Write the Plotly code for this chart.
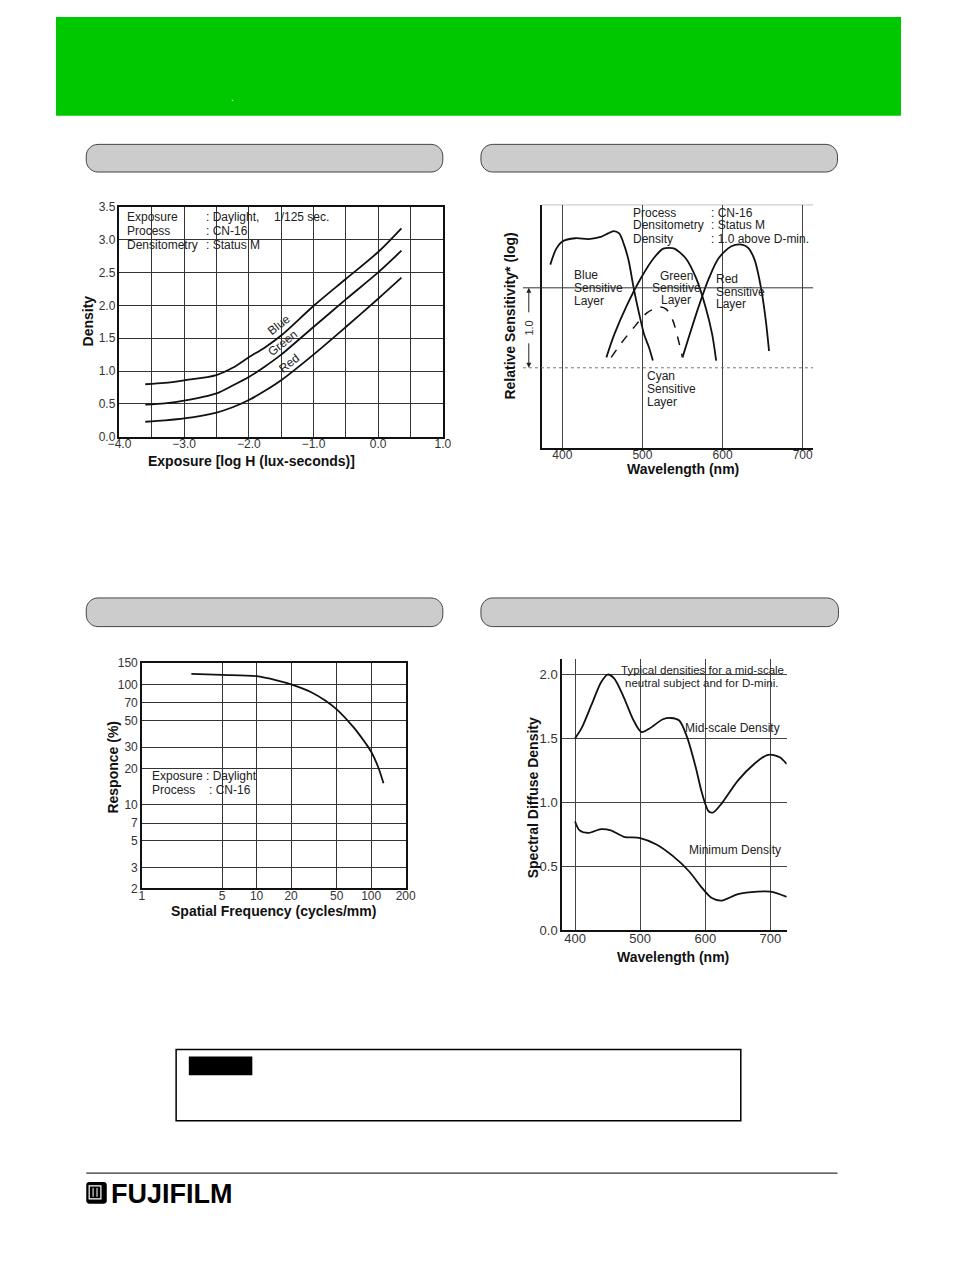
import math
import plotly.graph_objects as go

W, H = 954, 1274
FONT = "Liberation Sans, Arial, Helvetica, sans-serif"

# ---------------- data ----------------
# Chart 1: characteristic curves
exp_logH = [-3.6, -3.3, -3.0, -2.5, -2.25, -2.0, -1.75, -1.5, -1.0, -0.5, 0.0, 0.36]
blue_density = [0.80, 0.82, 0.86, 0.94, 1.05, 1.21, 1.36, 1.54, 1.99, 2.40, 2.81, 3.17]
green_density = [0.49, 0.51, 0.55, 0.66, 0.78, 0.91, 1.07, 1.25, 1.67, 2.09, 2.50, 2.83]
red_density = [0.23, 0.25, 0.28, 0.37, 0.45, 0.56, 0.70, 0.86, 1.25, 1.67, 2.10, 2.42]
c1_xticks = [-4.0, -3.5, -3.0, -2.5, -2.0, -1.5, -1.0, -0.5, 0.0, 0.5, 1.0]
c1_xtext = ["\u22124.0", "", "\u22123.0", "", "\u22122.0", "", "\u22121.0", "", "0.0", "", "1.0"]
c1_yticks = [0.0, 0.5, 1.0, 1.5, 2.0, 2.5, 3.0, 3.5]
c1_ytext = ["0.0", "0.5", "1.0", "1.5", "2.0", "2.5", "3.0", "3.5"]

# Chart 2: spectral sensitivity (log relative)
blue_wl = [385, 392, 400, 416, 433, 449, 457, 464, 471, 477, 483, 489, 496, 502, 508, 513]
blue_sens = [2.29, 2.48, 2.58, 2.62, 2.61, 2.64, 2.68, 2.71, 2.68, 2.54, 2.33, 2.00, 1.67, 1.42, 1.26, 1.09]
green_wl = [455, 465, 481, 498, 514, 526, 533, 540, 554, 567, 579, 587, 592]
green_sens = [1.13, 1.42, 1.79, 2.12, 2.37, 2.49, 2.50, 2.49, 2.37, 2.12, 1.75, 1.42, 1.09]
red_wl = [550, 559, 571, 583, 595, 611, 624, 632, 640, 648, 654, 658]
red_sens = [1.13, 1.42, 1.79, 2.12, 2.37, 2.52, 2.54, 2.50, 2.35, 2.00, 1.59, 1.21]
cyan_wl = [461, 473, 489, 506, 522, 530, 538, 544, 550]
cyan_sens = [1.13, 1.30, 1.50, 1.69, 1.76, 1.73, 1.59, 1.38, 1.13]
c2_xticks = [400, 500, 600, 700]

# Chart 3: MTF
mtf_freq = [2.7, 5, 10, 15, 20, 30, 40, 50, 70, 90, 100, 115, 128]
mtf_resp = [122, 120, 117, 108, 100, 86, 73, 62, 44, 32, 27.5, 20.5, 15]
c3_xticks = [1, 5, 10, 20, 50, 100, 200]
c3_yticks = [2, 3, 5, 7, 10, 20, 30, 50, 70, 100, 150]

# Chart 4: spectral dye density
mid_wl = [400, 410, 425, 440, 450, 460, 475, 490, 502, 515, 535, 547, 560, 572, 585, 595, 605, 612, 625, 650, 675, 695, 705, 715, 725]
mid_density = [1.50, 1.58, 1.76, 1.94, 2.00, 1.97, 1.82, 1.64, 1.55, 1.58, 1.65, 1.66, 1.64, 1.51, 1.28, 1.07, 0.93, 0.92, 0.99, 1.17, 1.30, 1.37, 1.37, 1.35, 1.30]
min_wl = [400, 407, 420, 440, 455, 475, 500, 525, 550, 575, 595, 610, 625, 650, 680, 700, 725]
min_density = [0.85, 0.78, 0.76, 0.79, 0.78, 0.73, 0.72, 0.67, 0.58, 0.46, 0.33, 0.25, 0.23, 0.28, 0.30, 0.30, 0.26]
c4_xticks = [400, 500, 600, 700]
c4_yticks = [0.0, 0.5, 1.0, 1.5, 2.0]
c4_ytext = ["0.0", "0.5", "1.0", "1.5", "2.0"]


# ---------------- helpers (page pixels -> paper fractions) ----------------
def X(p):
    return p / W


def Y(p):
    return 1 - p / H


def pt(x, y):
    return f"{X(x):.5f},{Y(y):.5f}"


def rrect(x0, y0, x1, y1, r):
    k = 0.5523 * r
    return (
        f"M{pt(x0 + r, y0)} L{pt(x1 - r, y0)} "
        f"C{pt(x1 - r + k, y0)} {pt(x1, y0 + r - k)} {pt(x1, y0 + r)} "
        f"L{pt(x1, y1 - r)} "
        f"C{pt(x1, y1 - r + k)} {pt(x1 - r + k, y1)} {pt(x1 - r, y1)} "
        f"L{pt(x0 + r, y1)} "
        f"C{pt(x0 + r - k, y1)} {pt(x0, y1 - r + k)} {pt(x0, y1 - r)} "
        f"L{pt(x0, y0 + r)} "
        f"C{pt(x0, y0 + r - k)} {pt(x0 + r - k, y0)} {pt(x0 + r, y0)} Z"
    )


shapes = []
annotations = []


def text(s, x, y, size=12, anchor="left", color="#222", bold=False, angle=0, fam=FONT):
    annotations.append(dict(
        text=f"<b>{s}</b>" if bold else s,
        x=X(x), y=Y(y), xref="paper", yref="paper",
        xanchor=anchor, yanchor="middle", showarrow=False,
        textangle=angle,
        font=dict(family=fam, size=size, color=color),
    ))


fig = go.Figure()
curve = dict(color="#111", width=1.8, shape="spline", smoothing=0.8)

# chart 1
for yv in (blue_density, green_density, red_density):
    fig.add_trace(go.Scatter(x=exp_logH, y=yv, mode="lines", line=curve,
                             xaxis="x", yaxis="y", hoverinfo="skip"))
# chart 2
for xv, yv in ((blue_wl, blue_sens), (green_wl, green_sens), (red_wl, red_sens)):
    fig.add_trace(go.Scatter(x=xv, y=yv, mode="lines", line=curve,
                             xaxis="x2", yaxis="y2", hoverinfo="skip"))
fig.add_trace(go.Scatter(x=cyan_wl, y=cyan_sens, mode="lines",
                         line=dict(color="#111", width=1.5, shape="spline", smoothing=0.8, dash="dash"),
                         xaxis="x2", yaxis="y2", hoverinfo="skip"))
# chart 3
fig.add_trace(go.Scatter(x=mtf_freq, y=mtf_resp, mode="lines", line=curve,
                         xaxis="x3", yaxis="y3", hoverinfo="skip"))
# chart 4
for xv, yv in ((mid_wl, mid_density), (min_wl, min_density)):
    fig.add_trace(go.Scatter(x=xv, y=yv, mode="lines", line=curve,
                             xaxis="x4", yaxis="y4", hoverinfo="skip"))

tickfont = dict(family=FONT, size=12, color="#333")
base = dict(showgrid=True, gridcolor="#333", gridwidth=1, zeroline=False,
            showline=True, linecolor="#111", linewidth=1.5, ticks="",
            tickfont=tickfont, fixedrange=True)

layout_axes = dict(
    xaxis=dict(base, ticklabelstandoff=-5, domain=[X(110), X(441)], range=[-4, 1], anchor="y",
               tickmode="array", tickvals=c1_xticks, ticktext=c1_xtext, mirror=True),
    yaxis=dict(base, domain=[Y(435), Y(202)], range=[0, 3.5], anchor="x",
               tickmode="array", tickvals=c1_yticks, ticktext=c1_ytext, mirror=True),
    xaxis2=dict(base, ticklabelstandoff=-5, domain=[X(542), X(820)], range=[374, 713], anchor="y2",
                tickmode="array", tickvals=c2_xticks, gridcolor="#444"),
    yaxis2=dict(base, domain=[Y(446), Y(200)], range=[0, 3.04], anchor="x2",
                showgrid=False, showticklabels=False),
    xaxis3=dict(base, ticklabelstandoff=-5, type="log", domain=[X(133), X(403)],
                range=[0, math.log10(200)],
                anchor="y3", tickmode="array", tickvals=c3_xticks,
                ticktext=[str(v) for v in c3_xticks], mirror=True),
    yaxis3=dict(base, type="log", domain=[Y(892), Y(664)],
                range=[math.log10(2), math.log10(150)], anchor="x3",
                tickmode="array", tickvals=c3_yticks,
                ticktext=[str(v) for v in c3_yticks], mirror=True),
    xaxis4=dict(base, ticklabelstandoff=-4, domain=[X(563), X(793)], range=[380, 725], anchor="y4",
                tickmode="array", tickvals=c4_xticks, gridcolor="#444",
                tickfont=dict(family=FONT, size=13, color="#333")),
    yaxis4=dict(base, domain=[Y(934), Y(660)], range=[0, 2.12], anchor="x4",
                tickmode="array", tickvals=c4_yticks, ticktext=c4_ytext, gridcolor="#444",
                tickfont=dict(family=FONT, size=13, color="#333")),
)

# ---------------- page decorations ----------------
shapes.append(dict(type="rect", xref="paper", yref="paper", x0=X(45), x1=X(910),
                   y0=Y(110), y1=Y(10), fillcolor="rgb(0,200,0)", line=dict(width=0),
                   layer="below"))
for (x0, y0, x1, y1) in ((76, 139, 441, 167), (480, 139, 845, 167),
                         (76, 598, 441, 627), (480, 598, 846, 627)):
    shapes.append(dict(type="path", xref="paper", yref="paper", path=rrect(x0, y0, x1, y1, 12),
                       fillcolor="#CCCCCC", line=dict(color="#444", width=1), layer="below"))
# note box
shapes.append(dict(type="rect", xref="paper", yref="paper", x0=X(168), x1=X(746),
                   y0=Y(1127), y1=Y(1055), line=dict(color="#000", width=1.5)))
shapes.append(dict(type="rect", xref="paper", yref="paper", x0=X(181), x1=X(246),
                   y0=Y(1081), y1=Y(1062), fillcolor="#000", line=dict(width=0)))
# footer line
shapes.append(dict(type="line", xref="paper", yref="paper", x0=X(76), x1=X(845),
                   y0=Y(1180), y1=Y(1180), line=dict(color="#000", width=1)))
# logo icon
shapes.append(dict(type="path", xref="paper", yref="paper", path=rrect(76, 1189, 97, 1211, 3),
                   fillcolor="#000", line=dict(width=0)))
shapes.append(dict(type="rect", xref="paper", yref="paper", x0=X(79), x1=X(91),
                   y0=Y(1206), y1=Y(1193), fillcolor="#000", line=dict(color="#fff", width=1.2)))
shapes.append(dict(type="line", xref="paper", yref="paper", x0=X(83), x1=X(83),
                   y0=Y(1204), y1=Y(1195), line=dict(color="#fff", width=1)))
shapes.append(dict(type="line", xref="paper", yref="paper", x0=X(87), x1=X(87),
                   y0=Y(1204), y1=Y(1195), line=dict(color="#fff", width=1)))
text("FUJIFILM", 99, 1201, size=27, bold=True, color="#000",
     fam="Liberation Sans Narrow, Arial Narrow, Liberation Sans, Arial, sans-serif")
text(".", 226, 92, size=10, anchor="center", color="#fff")

# ---------------- chart 2 extra lines ----------------
shapes.append(dict(type="line", xref="paper", yref="y2", x0=X(523), x1=X(820), y0=2, y1=2,
                   line=dict(color="#333", width=1)))
shapes.append(dict(type="line", xref="paper", yref="y2", x0=X(523), x1=X(820), y0=1, y1=1,
                   line=dict(color="#777", width=1, dash="dot")))
shapes.append(dict(type="line", xref="paper", yref="y2", x0=X(542), x1=X(820), y0=3.04, y1=3.04,
                   line=dict(color="#555", width=1)))
for head, ay in ((2, 26), (1, -26)):
    annotations.append(dict(x=X(529), y=head, xref="paper", yref="y2", text="",
                            showarrow=True, arrowhead=2, arrowsize=1, arrowwidth=1,
                            arrowcolor="#222", ax=0, ay=ay))
annotations.append(dict(x=X(529), y=1.5, xref="paper", yref="y2", text="1.0",
                        showarrow=False, textangle=-90,
                        font=dict(family=FONT, size=11, color="#333")))

# ---------------- chart texts ----------------
# chart 1
text("Exposure", 116, 212); text(": Daylight,", 197, 212); text("1/125 sec.", 266, 212)
text("Process", 116, 227); text(": CN-16", 197, 227)
text("Densitometry", 116, 241); text(": Status M", 197, 241)
text("Blue", 273, 322, angle=-38, anchor="center")
text("Green", 277, 340, angle=-38, anchor="center")
text("Red", 284, 360, angle=-38, anchor="center")
text("Density", 78, 318, size=14, bold=True, angle=-90, anchor="center", color="#111")
text("Exposure [log H (lux-seconds)]", 245, 459, size=14, bold=True, anchor="center", color="#111")

# chart 2
text("Process", 634, 208); text(": CN-16", 713, 208)
text("Densitometry", 634, 221); text(": Status M", 713, 221)
text("Density", 634, 235); text(": 1.0 above D-min.", 713, 235)
for i, s in enumerate(["Blue", "Sensitive", "Layer"]):
    text(s, 573, 271 + 13.5 * i)
for i, s in enumerate(["Green", "Sensitive", "Layer"]):
    text(s, 680, 272 + 12 * i, anchor="center")
for i, s in enumerate(["Red", "Sensitive", "Layer"]):
    text(s, 719, 275 + 13 * i)
for i, s in enumerate(["Cyan", "Sensitive", "Layer"]):
    text(s, 648, 373 + 13.5 * i)
text("Relative Sensitivity* (log)", 510, 313, size=14, bold=True, angle=-90, anchor="center", color="#111")
text("Wavelength (nm)", 687, 467, size=14, bold=True, anchor="center", color="#111")

# chart 3
text("Exposure", 141, 778); text(": Daylight", 197, 778)
text("Process", 141, 792); text(": CN-16", 200, 792)
text("Responce (%)", 103, 769, size=14, bold=True, angle=-90, anchor="center", color="#111")
text("Spatial Frequency (cycles/mm)", 268, 915, size=14, bold=True, anchor="center", color="#111")

# chart 4
text("Typical densities for a mid-scale", 792, 671, size=11.5, anchor="right")
text("neutral subject and for D-mini.", 786, 684, size=11.5, anchor="right")
text("Mid-scale Density", 788, 730, anchor="right")
text("Minimum Density", 789, 853, anchor="right")
text("Spectral Diffuse Density", 533, 800, size=14, bold=True, angle=-90, anchor="center", color="#111")
text("Wavelength (nm)", 677, 961, size=14, bold=True, anchor="center", color="#111")

fig.update_layout(
    width=W, height=H, margin=dict(l=0, r=0, t=0, b=0),
    paper_bgcolor="white", plot_bgcolor="white", showlegend=False,
    shapes=shapes, annotations=annotations, **layout_axes,
)

fig.write_html("out.html")
